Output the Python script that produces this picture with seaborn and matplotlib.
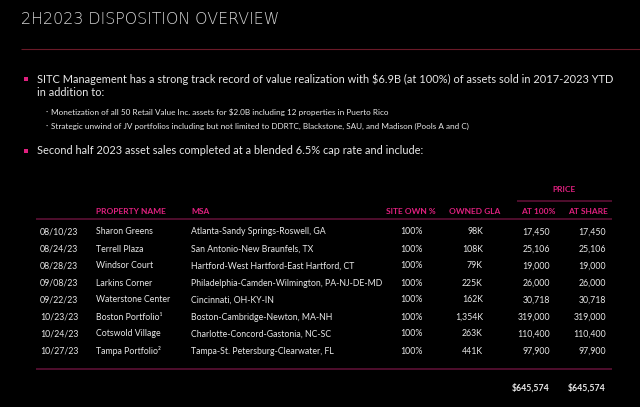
import matplotlib
matplotlib.use("Agg")
import matplotlib.pyplot as plt
import seaborn as sns

# данные таблицы
dates = ["08/10/23", "08/24/23", "08/28/23", "09/08/23",
         "09/22/23", "10/23/23", "10/24/23", "10/27/23"]
properties = ["Sharon Greens", "Terrell Plaza", "Windsor Court", "Larkins Corner",
              "Waterstone Center", "Boston Portfolio¹", "Cotswold Village", "Tampa Portfolio²"]
msa = ["Atlanta-Sandy Springs-Roswell, GA",
       "San Antonio-New Braunfels, TX",
       "Hartford-West Hartford-East Hartford, CT",
       "Philadelphia-Camden-Wilmington, PA-NJ-DE-MD",
       "Cincinnati, OH-KY-IN",
       "Boston-Cambridge-Newton, MA-NH",
       "Charlotte-Concord-Gastonia, NC-SC",
       "Tampa-St. Petersburg-Clearwater, FL"]
site_own = [100, 100, 100, 100, 100, 100, 100, 100]
owned_gla = [98, 108, 79, 225, 162, 1354, 263, 441]
price_100 = [17450, 25106, 19000, 26000, 30718, 319000, 110400, 97900]
price_share = [17450, 25106, 19000, 26000, 30718, 319000, 110400, 97900]

title = "2H2023 DISPOSITION OVERVIEW"
bullets = ["SITC Management has a strong track record of value realization with $6.9B (at 100%) of assets sold in 2017-2023 YTD\nin addition to:",
           "Second half 2023 asset sales completed at a blended 6.5% cap rate and include:"]
sub_bullets = ["Monetization of all 50 Retail Value Inc. assets for $2.0B including 12 properties in Puerto Rico",
               "Strategic unwind of JV portfolios including but not limited to DDRTC, Blackstone, SAU, and Madison (Pools A and C)"]
headers = ["PROPERTY NAME", "MSA", "SITE OWN %", "OWNED GLA", "AT 100%", "AT SHARE"]

PINK = "#e0207f"
LINE = "#5c1034"
WHITE = "#e8e8e8"

sns.set_theme(style="dark", rc={"figure.facecolor": "black", "axes.facecolor": "black"})
plt.rcParams['font.family'] = ['Lato', 'DejaVu Sans']

fig = plt.figure(figsize=(6.4, 4.07), dpi=100)
ax = fig.add_axes([0, 0, 1, 1])
ax.set_xlim(0, 640)
ax.set_ylim(407, 0)
ax.axis("off")

# заголовок
ax.text(21, 19, title, color="#d4d4d4", fontsize=11.4, va="center", ha="left",
        family=['DejaVu Sans'], fontweight="light")
ax.hlines(49, 21, 640, color="#6a1a28", lw=0.8)

# буллеты
ax.scatter([26, 26], [79, 151], marker="s", s=6, color=PINK, linewidths=0)
for j, line in enumerate(bullets[0].split("\n")):
    ax.text(37, 79 + j * 14, line, color=WHITE, fontsize=7.9, va="center", ha="left")
ax.text(37, 151, bullets[1], color=WHITE, fontsize=7.9, va="center", ha="left")
for i, s in enumerate(sub_bullets):
    y = 112 + i * 14
    ax.text(47, y, "·", color=WHITE, fontsize=6, va="center", ha="center")
    ax.text(51, y, s, color=WHITE, fontsize=5.85, va="center", ha="left")

# таблица
col_x = [96, 191, 411, 475, 538, 588]
col_ha = ["left", "left", "center", "center", "center", "center"]
ax.text(564, 190, "PRICE", color=PINK, fontsize=6, fontweight="bold", ha="center", va="center")
ax.hlines(201, 517, 612, color=LINE, lw=1.2)
for x, h, ha in zip(col_x, headers, col_ha):
    ax.text(x, 212, h, color=PINK, fontsize=6, fontweight="bold", ha=ha, va="center")
ax.hlines(219, 36, 612, color=LINE, lw=1.2)

y0, step = 232, 17
for i in range(len(dates)):
    y = y0 + i * step
    kw = dict(color=WHITE, fontsize=6.3, va="center")
    ax.text(40, y, dates[i], ha="left", **kw)
    ax.text(96, y, properties[i], ha="left", **kw)
    ax.text(191, y, msa[i], ha="left", **kw)
    ax.text(411, y, f"{site_own[i]}%", ha="center", **kw)
    ax.text(483, y, f"{owned_gla[i]:,}K", ha="right", **kw)
    ax.text(550, y, f"{price_100[i]:,}", ha="right", **kw)
    ax.text(606, y, f"{price_share[i]:,}", ha="right", **kw)

ax.hlines(369, 36, 612, color=LINE, lw=1.2)
ax.text(550, 388, f"${sum(price_100):,}", color=WHITE, fontsize=6.3, fontweight="bold", ha="right", va="center")
ax.text(606, 388, f"${sum(price_share):,}", color=WHITE, fontsize=6.3, fontweight="bold", ha="right", va="center")

fig.savefig("out.png", dpi=100, facecolor="black")
